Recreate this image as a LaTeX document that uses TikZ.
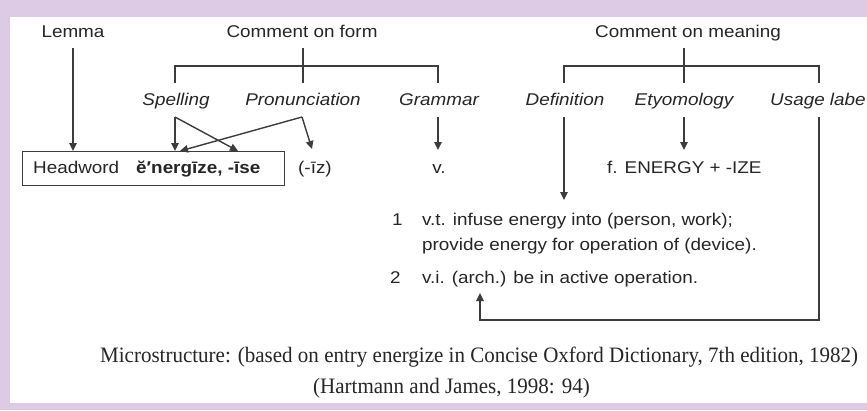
\documentclass[tikz,border=0pt]{standalone}
\usepackage{fontspec}
\setmainfont{Liberation Sans}[FakeStretch=1.11]
\newfontfamily\capfont{Liberation Serif}[FakeStretch=0.955]
\usetikzlibrary{arrows.meta}
\definecolor{bgpurple}{HTML}{DDCBE6}
\definecolor{ink}{HTML}{262626}
\begin{document}
\begin{tikzpicture}[x=1pt,y=-1pt,
  lbl/.style={font=\fontsize{17}{20}\selectfont, inner sep=0pt, text=ink},
  itl/.style={font=\fontsize{17}{20}\selectfont\itshape, inner sep=0pt, text=ink},
  captext/.style={font=\fontsize{22}{26}\selectfont\capfont, inner sep=0pt, text=ink},
  ln/.style={line width=1.4pt, draw=ink!90},
  arr/.style={ln, -{Triangle[length=8pt,width=7.5pt]}}]
\useasboundingbox (0,0) rectangle (867,410);
\fill[bgpurple] (0,0) rectangle (867,410);
\fill[white] (10,17) rectangle (867,403);

% top labels
\node[lbl, anchor=base] (lemma) at (73,37) {Lemma};
\node[lbl, anchor=base] (cform) at (302,37) {Comment on form};
\node[lbl, anchor=base] (cmean) at (688,37) {Comment on meaning};

% italic labels
\node[itl, anchor=base] (spell) at (176,105) {Spelling};
\node[itl, anchor=base] (pron) at (303,105) {Pronunciation};
\node[itl, anchor=base] (gram) at (439,105) {Grammar};
\node[itl, anchor=base] (defn) at (565,105) {Definition};
\node[itl, anchor=base] (etym) at (684,105) {Etyomology};
\node[itl, anchor=base west] (usage) at (770,105) {Usage labe};

% entry row
\node[draw=ink!90, line width=1.4pt, minimum width=262pt, minimum height=34pt, inner sep=0pt, anchor=north west] (hwbox) at (22,151) {};
\node[lbl, anchor=base west] (hw) at (33,173) {Headword};
\node[lbl, anchor=base west, font=\fontsize{17}{20}\selectfont\bfseries] (lemform) at (136,173) {ĕ′nergīze, -īse};
\node[lbl, anchor=base west] (pronf) at (298,173) {(-īz)};
\node[lbl, anchor=base] (gramf) at (439,173) {v.};
\node[lbl, anchor=base west] (etymf) at (607,173) {f. ENERGY + -IZE};

% senses
\node[lbl, anchor=base west] (n1) at (392,225) {1};
\node[lbl, anchor=base west] (s1a) at (422,225) {v.t. infuse energy into (person, work);};
\node[lbl, anchor=base west] (s1b) at (422,250) {provide energy for operation of (device).};
\node[lbl, anchor=base west] (n2) at (390,283) {2};
\node[lbl, anchor=base west] (s2) at (422,283) {v.i. (arch.) be in active operation.};

% caption
\node[captext, anchor=base west] (cap1) at (100,362) {Microstructure: (based on entry energize in Concise Oxford Dictionary, 7th edition, 1982)};
\node[captext, anchor=base west] (cap2) at (313,393) {(Hartmann and James, 1998: 94)};

% coordinates
\coordinate (lemtop) at (73,48);
\coordinate (formtop) at (303,48);
\coordinate (meantop) at (684,48);
\coordinate (fl) at (175,66);
\coordinate (fr) at (438,66);
\coordinate (ml) at (564,66);
\coordinate (mr) at (819,66);
\coordinate (spb) at (175,83);
\coordinate (prb) at (303,83);
\coordinate (grb) at (438,83);
\coordinate (deb) at (564,83);
\coordinate (etb) at (684,83);
\coordinate (usb) at (819,83);
\coordinate (spo) at (175,117);
\coordinate (pro) at (302,117);
\coordinate (gro) at (438,117);
\coordinate (deo) at (564,117);
\coordinate (eto) at (684,117);
\coordinate (uso) at (819,117);
\coordinate (spin1) at (175,151);
\coordinate (spin2) at (238,151);
\coordinate (prin1) at (180,151);
\coordinate (prin2) at (312,149);
\coordinate (grin) at (438,150);
\coordinate (dein) at (564,200);
\coordinate (etin) at (684,150);
\coordinate (usturn) at (819,320);
\coordinate (s2in) at (480,293);

% brackets
\draw[ln] (formtop) -- (prb);
\draw[ln] (spb) -- (fl) -- (fr) -- (grb);
\draw[ln] (meantop) -- (etb);
\draw[ln] (deb) -- (ml) -- (mr) -- (usb);

% arrows
\draw[arr] (lemtop) -- (lemtop |- hwbox.north);
\draw[arr] (spo) -- (spin1);
\draw[arr] (spo) -- (spin2);
\draw[arr] (pro) -- (prin1);
\draw[arr] (pro) -- (prin2);
\draw[arr] (gro) -- (grin);
\draw[arr] (deo) -- (dein);
\draw[arr] (eto) -- (etin);
\draw[arr] (uso) -- (usturn) -| (s2in);
\end{tikzpicture}
\end{document}
